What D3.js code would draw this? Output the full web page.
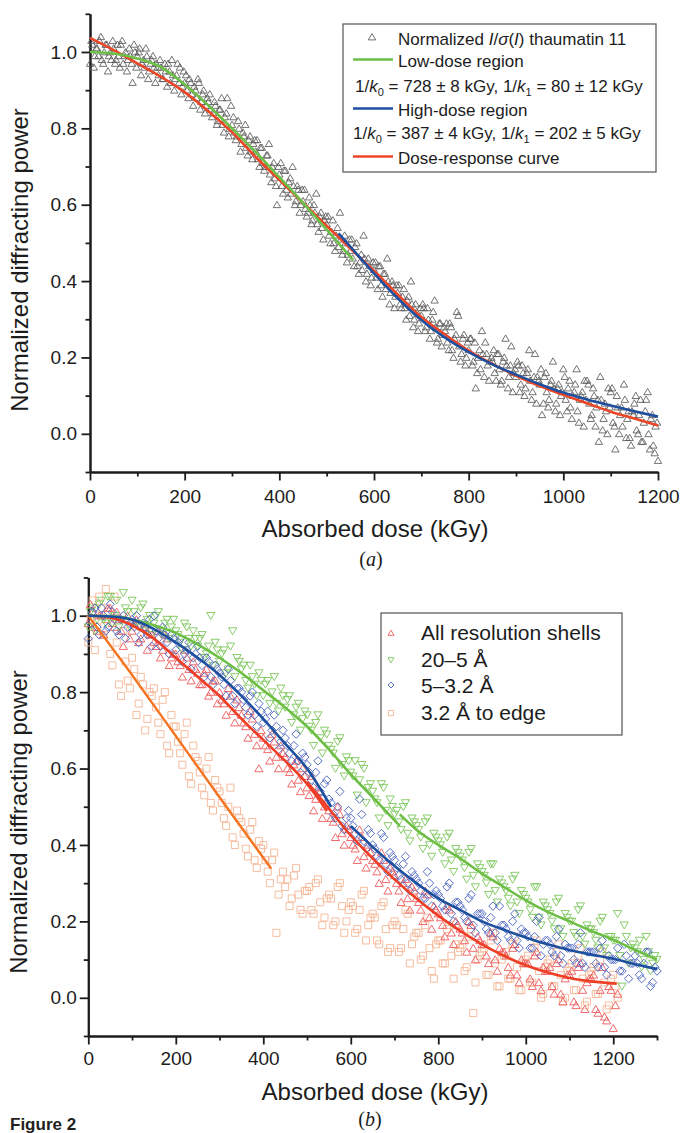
<!DOCTYPE html>
<html><head><meta charset="utf-8">
<script src="https://cdn.jsdelivr.net/npm/d3@7"></script>
<style>
body{margin:0;background:#fff}
svg{display:block}
</style>
</head><body>
<svg id="chart" width="681" height="1133"></svg>
<script>
// ---------------- Panel (a) data ----------------
const doseA = [
0,5,10,15,20,25,30,35,40,45,50,55,60,65,70,75,80,85,90,95,
100,105,110,115,120,125,130,135,140,145,150,155,160,165,170,175,180,185,190,195,
200,205,210,215,220,225,230,235,240,245,250,255,260,265,270,275,280,285,290,295,
300,305,310,315,320,325,330,335,340,345,350,355,360,365,370,375,380,385,390,395,
400,405,410,415,420,425,430,435,440,445,450,455,460,465,470,475,480,485,490,495,
500,505,510,515,520,525,530,535,540,545,550,555,560,565,570,575,580,585,590,595,
600,605,610,615,620,625,630,635,640,645,650,655,660,665,670,675,680,685,690,695,
700,705,710,715,720,725,730,735,740,745,750,755,760,765,770,775,780,785,790,795,
800,805,810,815,820,825,830,835,840,845,850,855,860,865,870,875,880,885,890,895,
900,905,910,915,920,925,930,935,940,945,950,955,960,965,970,975,980,985,990,995,
1000,1005,1010,1015,1020,1025,1030,1035,1040,1045,1050,1055,1060,1065,1070,1075,1080,1085,1090,1095,
1100,1105,1110,1115,1120,1125,1130,1135,1140,1145,1150,1155,1160,1165,1170,1175,1180,1185,1190,1195,
1200];
const intensityA = [
0.97,1.02,0.99,1.01,1.03,0.98,1.00,1.02,0.99,0.98,
1.01,0.98,0.99,1.02,0.97,1.00,0.98,0.99,0.92,1.00,
0.99,1.01,0.97,0.96,0.99,0.95,0.98,0.96,0.97,0.94,
0.96,0.93,0.95,0.97,0.92,0.94,0.93,0.97,0.96,0.91,
0.92,0.90,0.93,0.89,0.91,0.88,0.92,0.87,0.90,0.86,
0.87,0.85,0.84,0.86,0.82,0.85,0.81,0.83,0.88,0.80,
0.81,0.79,0.78,0.80,0.76,0.78,0.75,0.77,0.74,0.76,
0.74,0.72,0.75,0.71,0.70,0.73,0.68,0.70,0.67,0.60,
0.68,0.65,0.69,0.64,0.66,0.63,0.65,0.61,0.64,0.60,
0.61,0.59,0.58,0.60,0.56,0.58,0.55,0.57,0.54,0.56,
0.55,0.52,0.53,0.50,0.52,0.49,0.51,0.48,0.50,0.47,
0.48,0.46,0.49,0.44,0.45,0.43,0.46,0.42,0.44,0.41,
0.43,0.41,0.44,0.39,0.42,0.38,0.40,0.37,0.39,0.36,
0.37,0.34,0.36,0.33,0.35,0.31,0.34,0.30,0.32,0.29,
0.31,0.33,0.28,0.30,0.27,0.32,0.28,0.25,0.29,0.26,
0.27,0.24,0.29,0.22,0.25,0.32,0.23,0.21,0.26,0.20,
0.22,0.25,0.19,0.12,0.20,0.17,0.21,0.24,0.18,0.19,
0.19,0.16,0.21,0.17,0.14,0.20,0.18,0.15,0.23,0.16,
0.15,0.18,0.13,0.16,0.12,0.17,0.14,0.11,0.21,0.15,
0.13,0.05,0.15,0.11,0.09,0.14,0.12,0.08,0.13,0.10,
0.17,0.09,0.12,0.07,0.10,0.13,0.06,0.09,0.11,0.14,
0.14,0.08,0.05,0.10,0.07,-0.02,0.09,0.04,0.06,0.12,
0.11,0.03,-0.04,0.07,0.05,0.02,0.09,0.04,-0.01,0.06,
0.08,0.01,0.05,-0.02,0.03,0.09,0.00,0.04,-0.03,0.02,
-0.07];
const doseA2 = [
3,8,13,18,23,28,33,38,43,48,53,58,63,68,73,78,83,88,93,98,
103,108,113,118,123,128,133,138,143,148,153,158,163,168,173,178,183,188,193,198,
203,208,213,218,223,228,233,238,243,248,253,258,263,268,273,278,283,288,293,298,
303,308,313,318,323,328,333,338,343,348,353,358,363,368,373,378,383,388,393,398,
403,408,413,418,423,428,433,438,443,448,453,458,463,468,473,478,483,488,493,498,
503,508,513,518,523,528,533,538,543,548,553,558,563,568,573,578,583,588,593,598,
603,608,613,618,623,628,633,638,643,648,653,658,663,668,673,678,683,688,693,698,
703,708,713,718,723,728,733,738,743,748,753,758,763,768,773,778,783,788,793,798,
803,808,813,818,823,828,833,838,843,848,853,858,863,868,873,878,883,888,893,898,
903,908,913,918,923,928,933,938,943,948,953,958,963,968,973,978,983,988,993,998,
1003,1008,1013,1018,1023,1028,1033,1038,1043,1048,1053,1058,1063,1068,1073,1078,1083,1088,1093,1098,
1103,1108,1113,1118,1123,1128,1133,1138,1143,1148,1153,1158,1163,1168,1173,1178,1183,1188,1193,1198];
const intensityA2 = [
1.03,0.96,1.01,0.99,1.04,0.97,1.02,0.95,1.00,1.03,
0.97,1.02,0.96,1.03,0.99,0.95,1.01,0.97,1.02,0.96,
1.00,0.94,0.98,1.01,0.93,0.97,0.99,0.92,0.96,0.98,
0.93,0.97,0.91,0.95,0.98,0.90,0.94,0.92,0.89,0.95,
0.94,0.88,0.92,0.86,0.90,0.93,0.85,0.89,0.84,0.88,
0.89,0.83,0.87,0.81,0.85,0.88,0.79,0.84,0.78,0.86,
0.83,0.77,0.82,0.74,0.79,0.81,0.73,0.78,0.72,0.77,
0.77,0.70,0.75,0.69,0.73,0.76,0.66,0.71,0.65,0.70,
0.71,0.63,0.69,0.62,0.67,0.70,0.60,0.65,0.58,0.64,
0.64,0.57,0.62,0.55,0.60,0.63,0.53,0.58,0.51,0.57,
0.57,0.50,0.56,0.48,0.54,0.58,0.47,0.52,0.45,0.51,
0.51,0.44,0.50,0.42,0.47,0.52,0.40,0.46,0.39,0.45,
0.45,0.38,0.44,0.36,0.42,0.46,0.34,0.40,0.33,0.39,
0.39,0.33,0.38,0.30,0.36,0.40,0.28,0.34,0.27,0.33,
0.34,0.27,0.33,0.25,0.30,0.35,0.24,0.29,0.23,0.28,
0.29,0.22,0.28,0.20,0.26,0.31,0.19,0.25,0.18,0.24,
0.25,0.18,0.24,0.16,0.22,0.27,0.15,0.21,0.14,0.20,
0.22,0.14,0.21,0.13,0.19,0.25,0.12,0.18,0.11,0.17,
0.19,0.11,0.18,0.10,0.16,0.22,0.09,0.15,0.08,0.14,
0.17,0.08,0.16,0.07,0.13,0.19,0.06,0.12,0.05,0.11,
0.15,0.06,0.14,0.04,0.11,0.17,0.03,0.10,0.02,0.09,
0.13,0.04,0.12,0.02,0.09,0.15,0.01,0.08,0.00,0.07,
0.12,0.02,0.10,0.00,0.07,0.13,-0.01,0.06,-0.03,0.05,
0.10,0.00,0.09,-0.02,0.06,0.11,-0.04,0.05,-0.05,0.03];

const lowFitDoseA  = [0,50,100,150,200,250,300,350,400,450,500,556];
const lowFitValueA = [1.0,0.996,0.983,0.96,0.915,0.86,0.80,0.738,0.672,0.605,0.535,0.455];
const highFitDoseA  = [525,550,600,650,700,750,800,850,900,950,1000,1050,1100,1150,1200];
const highFitValueA = [0.525,0.49,0.42,0.355,0.298,0.252,0.214,0.182,0.155,0.13,0.108,0.09,0.074,0.059,0.045];
const respFitDoseA  = [0,50,100,150,200,250,300,350,400,450,500,550,600,650,700,750,800,850,900,950,1000,1050,1100,1150,1200];
const respFitValueA = [1.037,1.005,0.97,0.935,0.895,0.845,0.79,0.725,0.665,0.605,0.545,0.485,0.427,0.365,0.306,0.26,0.218,0.183,0.152,0.125,0.102,0.08,0.058,0.04,0.022];

// ---------------- Panel (b) data ----------------
const doseB = [
0,10,20,30,40,50,60,70,80,90,100,110,120,130,140,150,160,170,180,190,
200,210,220,230,240,250,260,270,280,290,300,310,320,330,340,350,360,370,380,390,
400,410,420,430,440,450,460,470,480,490,500,510,520,530,540,550,560,570,580,590,
600,610,620,630,640,650,660,670,680,690,700,710,720,730,740,750,760,770,780,790,
800,810,820,830,840,850,860,870,880,890,900,910,920,930,940,950,960,970,980,990,
1000,1010,1020,1030,1040,1050,1060,1070,1080,1090,1100,1110,1120,1130,1140,1150,1160,1170,1180,1190,
1200,1210,1220,1230,1240,1250,1260,1270,1280,1290,1300];
const doseB2 = [
5,15,25,35,45,55,65,75,85,95,105,115,125,135,145,155,165,175,185,195,
205,215,225,235,245,255,265,275,285,295,305,315,325,335,345,355,365,375,385,395,
405,415,425,435,445,455,465,475,485,495,505,515,525,535,545,555,565,575,585,595,
605,615,625,635,645,655,665,675,685,695,705,715,725,735,745,755,765,775,785,795,
805,815,825,835,845,855,865,875,885,895,905,915,925,935,945,955,965,975,985,995,
1005,1015,1025,1035,1045,1055,1065,1075,1085,1095,1105,1115,1125,1135,1145,1155,1165,1175,1185,1195,
1205,1215,1225,1235,1245,1255,1265,1275,1285,1295];
const allShells = [
0.98,1.01,0.96,1.00,0.99, 1.02,0.97,0.99,0.92,1.00,
0.96,0.99,0.94,0.97,0.95, 0.93,0.96,0.91,0.94,0.89,
0.90,0.87,0.91,0.86,0.88, 0.85,0.82,0.86,0.80,0.83,
0.80,0.77,0.81,0.75,0.78, 0.74,0.71,0.75,0.69,0.60,
0.68,0.65,0.69,0.63,0.66, 0.63,0.59,0.61,0.57,0.60,
0.55,0.58,0.52,0.54,0.50, 0.49,0.46,0.50,0.43,0.45,
0.42,0.39,0.44,0.37,0.40, 0.36,0.33,0.38,0.31,0.34,
0.32,0.28,0.30,0.26,0.29, 0.26,0.23,0.28,0.21,0.24,
0.22,0.19,0.24,0.17,0.20, 0.18,0.15,0.20,0.13,0.16,
0.14,0.11,0.17,0.10,0.13, 0.12,0.08,0.13,0.06,0.10,
0.09,0.05,0.11,0.04,0.08, 0.07,0.03,0.09,0.01,0.05,
0.06,-0.01,0.08,0.02,0.04, 0.05,-0.03,0.02,-0.05,0.03,
-0.08,0.01];
const allShells2 = [
1.03,0.97,1.00,0.95,1.02, 0.98,1.01,0.96,0.99,0.94,
0.98,0.93,0.97,0.91,0.95, 0.92,0.89,0.95,0.87,0.90,
0.88,0.84,0.89,0.83,0.86, 0.82,0.85,0.79,0.83,0.77,
0.78,0.74,0.79,0.72,0.76, 0.72,0.68,0.73,0.66,0.70,
0.66,0.62,0.67,0.60,0.64, 0.60,0.56,0.62,0.54,0.58,
0.53,0.49,0.55,0.47,0.51, 0.47,0.42,0.48,0.40,0.44,
0.40,0.36,0.42,0.34,0.38, 0.35,0.30,0.36,0.28,0.33,
0.30,0.25,0.31,0.23,0.28, 0.25,0.20,0.27,0.18,0.23,
0.21,0.16,0.23,0.14,0.19, 0.17,0.12,0.19,0.10,0.15,
0.14,0.09,0.16,0.07,0.12, 0.11,0.06,0.14,0.04,0.09,
0.09,0.03,0.12,0.02,0.07, 0.08,0.01,0.10,-0.01,0.06,
0.07,-0.02,0.09,-0.03,0.05, 0.06,-0.04,0.08,-0.06,0.02,
-0.02];
const shell20to5 = [
0.97,1.02,0.99,1.04,0.98, 1.05,1.00,0.97,1.06,1.01,
1.04,0.98,1.02,0.96,1.00, 0.98,1.01,0.95,0.99,0.97,
0.96,0.93,0.98,0.94,0.96, 0.92,0.95,0.90,1.00,0.93,
0.88,0.91,0.86,0.96,0.89, 0.86,0.83,0.87,0.82,0.85,
0.79,0.83,0.80,0.77,0.81, 0.76,0.79,0.74,0.77,0.73,
0.74,0.70,0.72,0.68,0.70, 0.66,0.64,0.67,0.61,0.63,
0.59,0.62,0.57,0.60,0.55, 0.54,0.51,0.56,0.49,0.52,
0.48,0.46,0.50,0.43,0.47, 0.45,0.42,0.46,0.40,0.43,
0.41,0.38,0.42,0.36,0.39, 0.37,0.34,0.38,0.32,0.35,
0.33,0.30,0.35,0.28,0.31, 0.29,0.26,0.31,0.25,0.28,
0.26,0.23,0.29,0.21,0.25, 0.23,0.20,0.25,0.18,0.22,
0.20,0.17,0.23,0.16,0.19, 0.18,0.15,0.20,0.13,0.16,
0.15,0.22,0.03,0.16,0.13, 0.13,0.15,0.10,0.12,0.09,
0.10];
const shell20to5_2 = [
1.01,0.96,1.03,0.99,1.05, 0.98,1.04,0.99,1.02,0.97,
1.01,0.97,1.03,0.99,0.95, 1.00,0.96,0.98,0.94,0.99,
0.95,0.91,0.97,0.92,0.94, 0.94,0.89,0.92,0.87,0.91,
0.90,0.85,0.92,0.84,0.88, 0.87,0.81,0.84,0.79,0.83,
0.82,0.77,0.84,0.75,0.79, 0.78,0.72,0.76,0.70,0.75,
0.71,0.66,0.74,0.64,0.69, 0.65,0.60,0.68,0.58,0.62,
0.58,0.53,0.61,0.51,0.56, 0.52,0.47,0.55,0.45,0.50,
0.49,0.44,0.51,0.41,0.46, 0.44,0.39,0.47,0.37,0.42,
0.40,0.35,0.43,0.33,0.38, 0.36,0.31,0.39,0.29,0.34,
0.32,0.27,0.35,0.25,0.30, 0.28,0.24,0.32,0.22,0.27,
0.25,0.21,0.29,0.19,0.24, 0.22,0.18,0.26,0.16,0.21,
0.20,0.16,0.24,0.14,0.18, 0.17,0.13,0.21,0.11,0.16,
0.15,0.11,0.19,0.09,0.14, 0.12,0.08,0.16,0.07,0.11];
const shell5to32 = [
0.94,1.01,0.97,1.02,0.96, 1.03,0.99,0.95,1.00,0.97,
0.99,1.00,0.95,0.97,0.99, 1.00,0.94,0.97,0.93,0.95,
0.91,0.94,0.90,0.93,0.89, 0.92,0.87,0.89,0.84,0.87,
0.85,0.82,0.86,0.79,0.81, 0.80,0.76,0.79,0.74,0.77,
0.72,0.75,0.70,0.71,0.67, 0.68,0.64,0.66,0.62,0.64,
0.61,0.57,0.59,0.54,0.56, 0.52,0.48,0.50,0.45,0.47,
0.47,0.43,0.52,0.41,0.44, 0.40,0.37,0.43,0.35,0.38,
0.36,0.32,0.35,0.30,0.33, 0.31,0.28,0.26,0.30,0.27,
0.27,0.24,0.29,0.22,0.25, 0.24,0.21,0.26,0.19,0.22,
0.22,0.18,0.21,0.17,0.24, 0.19,0.16,0.20,0.15,0.18,
0.17,0.13,0.16,0.21,0.14, 0.15,0.12,0.16,0.11,0.14,
0.13,0.10,0.14,0.09,0.12, 0.12,0.09,0.13,0.08,0.11,
0.10,0.13,0.07,0.11,0.09, 0.11,0.06,0.09,0.12,0.04,
0.07];
const shell5to32_2 = [
0.98,1.02,0.95,1.00,0.97, 1.01,0.96,0.99,0.94,0.98,
0.97,0.93,0.98,0.95,0.92, 0.96,0.92,0.95,0.90,0.94,
0.93,0.88,0.91,0.86,0.90, 0.89,0.84,0.88,0.82,0.86,
0.84,0.79,0.83,0.77,0.81, 0.78,0.74,0.80,0.71,0.75,
0.73,0.68,0.74,0.65,0.70, 0.66,0.62,0.69,0.59,0.63,
0.59,0.55,0.62,0.52,0.57, 0.51,0.47,0.54,0.44,0.49,
0.45,0.41,0.48,0.39,0.43, 0.39,0.36,0.42,0.33,0.37,
0.34,0.31,0.37,0.28,0.32, 0.30,0.26,0.33,0.24,0.28,
0.26,0.23,0.30,0.20,0.25, 0.23,0.20,0.27,0.17,0.22,
0.20,0.17,0.24,0.15,0.19, 0.18,0.15,0.22,0.13,0.17,
0.16,0.13,0.20,0.11,0.15, 0.14,0.11,0.18,0.09,0.13,
0.13,0.09,0.17,0.08,0.12, 0.12,0.08,0.15,0.06,0.10,
0.10,0.07,0.14,0.05,0.09, 0.09,0.05,0.12,0.03,0.08];
const shell32toEdge = [
0.93,1.04,0.97,1.02,1.07, 0.90,1.05,0.82,0.96,0.83,
0.89,0.74,0.84,0.70,0.80, 0.81,0.72,0.78,0.66,0.74,
0.71,0.64,0.69,0.58,0.66, 0.62,0.55,0.60,0.51,0.57,
0.54,0.47,0.50,0.42,0.49, 0.46,0.39,0.44,0.36,0.41,
0.40,0.33,0.36,0.17,0.31, 0.29,0.24,0.32,0.27,0.22,
0.28,0.23,0.30,0.25,0.21, 0.27,0.19,0.29,0.24,0.20,
0.25,0.17,0.23,0.28,0.19, 0.22,0.15,0.24,0.18,0.13,
0.20,0.12,0.18,0.22,0.14, 0.17,0.10,0.19,0.13,0.05,
0.15,0.09,0.18,0.11,0.14, 0.13,0.07,0.16,-0.04,0.10,
0.12,0.06,0.15,0.09,0.03, 0.11,0.05,0.14,0.08,0.02,
0.10,0.04,0.13,0.07,0.01, 0.09,0.03,0.12,0.06,0.00,
0.08,0.02,0.11,0.05,-0.01, 0.07,0.01,0.10,0.04,-0.02,
0.06,0.00];
const shell32toEdge2 = [
0.99,0.91,1.05,0.95,1.01, 0.87,0.93,0.79,0.88,0.81,
0.86,0.77,0.82,0.73,0.79, 0.76,0.69,0.80,0.64,0.71,
0.67,0.61,0.72,0.56,0.63, 0.59,0.53,0.63,0.49,0.55,
0.51,0.45,0.55,0.40,0.47, 0.43,0.37,0.46,0.34,0.39,
0.36,0.30,0.38,0.27,0.33, 0.31,0.26,0.34,0.23,0.28,
0.29,0.22,0.31,0.19,0.26, 0.26,0.20,0.30,0.17,0.23,
0.24,0.18,0.27,0.15,0.21, 0.21,0.14,0.25,0.12,0.19,
0.19,0.13,0.23,0.09,0.16, 0.17,0.11,0.21,0.07,0.14,
0.15,0.09,0.19,0.05,0.12, 0.14,0.08,0.18,0.04,0.11,
0.13,0.06,0.17,0.03,0.10, 0.12,0.05,0.16,0.02,0.09,
0.11,0.04,0.15,0.00,0.08, 0.10,0.03,0.14,-0.01,0.07,
0.09,0.02,0.13,-0.02,0.06, 0.08,0.01,0.12,-0.03,0.05,
0.03];

const allLowDose  = [0,50,100,150,200,250,300,350,400,450,500,545];
const allLowValue = [1.0,0.995,0.975,0.94,0.89,0.84,0.79,0.73,0.675,0.62,0.56,0.49];
const allHighDose  = [500,550,600,650,700,750,800,850,900,950,1000,1050,1100,1150,1208];
const allHighValue = [0.565,0.495,0.425,0.365,0.31,0.26,0.215,0.175,0.14,0.11,0.085,0.066,0.052,0.043,0.037];
const g20LowDose  = [0,50,100,150,200,250,300,350,400,450,500,550,600,650,712];
const g20LowValue = [1.0,0.999,0.99,0.975,0.955,0.925,0.89,0.85,0.805,0.76,0.71,0.65,0.585,0.525,0.45];
const g20HighDose  = [712,750,800,850,900,950,1000,1050,1100,1150,1200,1250,1300];
const g20HighValue = [0.48,0.44,0.40,0.365,0.325,0.29,0.255,0.225,0.2,0.175,0.152,0.125,0.1];
const g5LowDose  = [0,50,100,150,200,250,300,350,400,450,500,555];
const g5LowValue = [1.0,0.998,0.99,0.965,0.93,0.89,0.845,0.79,0.73,0.665,0.6,0.5];
const g5HighDose  = [600,650,700,750,800,850,900,950,1000,1050,1100,1150,1200,1250,1300];
const g5HighValue = [0.45,0.395,0.345,0.3,0.26,0.23,0.2,0.178,0.158,0.14,0.125,0.113,0.102,0.088,0.075];
const edgeFitDose  = [0,100,200,300,418];
const edgeFitValue = [1.0,0.845,0.685,0.525,0.338];

// ---------------- tick values ----------------
const xMajorA = [0,200,400,600,800,1000,1200];
const xMinorA = [100,300,500,700,900,1100];
const xMajorB = [0,200,400,600,800,1000,1200];
const xMinorB = [100,300,500,700,900,1100,1300];
const yMajor = [0,0.2,0.4,0.6,0.8,1.0];
const yMinor = [-0.1,0.1,0.3,0.5,0.7,0.9,1.1];

// ---------------- drawing ----------------
const SANS = "'Liberation Sans', Arial, Helvetica, sans-serif";
const SERIF = "'Liberation Serif', 'Times New Roman', serif";
const INK = "#1c1c1c";
const svg = d3.select("#chart");
svg.append("rect").attr("width",681).attr("height",1133).attr("fill","#fff");

const TRI_UP_A = "M0,-3.4L3.7,2.9L-3.7,2.9Z";
const TRI_UP = "M0,-3.8L4.1,3.2L-4.1,3.2Z";
const TRI_DN = "M0,3.8L4.1,-3.2L-4.1,-3.2Z";
const DIAM = "M0,-4.2L4.2,0L0,4.2L-4.2,0Z";
const SQR = "M-3.5,-3.5H3.5V3.5H-3.5Z";

function axes(o) {
  const x = d3.scaleLinear().domain(o.xDomain).range(o.xRange);
  const y = d3.scaleLinear().domain([-0.1, 1.1]).range(o.yRange);
  const g = svg.append("g");
  const y0 = o.yRange[0], x0 = o.xRange[0];
  g.append("g").attr("transform", `translate(0,${y0})`)
    .call(d3.axisBottom(x).tickValues(o.xMinor).tickSize(4.5).tickSizeOuter(0).tickFormat(""));
  g.append("g").attr("transform", `translate(${x0},0)`)
    .call(d3.axisLeft(y).tickValues(yMinor).tickSize(4.5).tickSizeOuter(0).tickFormat(""));
  g.append("g").attr("transform", `translate(0,${y0})`)
    .call(d3.axisBottom(x).tickValues(o.xMajor).tickSize(8.5).tickSizeOuter(0).tickPadding(o.xPad).tickFormat(d3.format("d")));
  g.append("g").attr("transform", `translate(${x0},0)`)
    .call(d3.axisLeft(y).tickValues(yMajor).tickSize(8.5).tickSizeOuter(0).tickPadding(o.yPad).tickFormat(d3.format(".1f")));
  g.selectAll(".domain").attr("stroke", INK).attr("stroke-width", 2);
  g.selectAll(".tick line").attr("stroke", INK).attr("stroke-width", 1.8);
  g.selectAll(".tick text").attr("fill", INK).attr("font-family", SANS).attr("font-size", 19);
  svg.append("text").attr("x", o.xTitleX).attr("y", o.xTitleY).attr("text-anchor", "middle")
    .attr("font-family", SANS).attr("font-size", 24).attr("fill", INK).text("Absorbed dose (kGy)");
  svg.append("text").attr("transform", `translate(${o.yTitleX},${o.yTitleY}) rotate(-90)`).attr("text-anchor", "middle")
    .attr("font-family", SANS).attr("font-size", 24).attr("fill", INK).text("Normalized diffracting power");
  const lab = svg.append("text").attr("x", o.labX).attr("y", o.labY).attr("text-anchor", "middle")
    .attr("font-family", SERIF).attr("font-size", 20).attr("fill", INK);
  lab.append("tspan").text("(");
  lab.append("tspan").attr("font-style", "italic").text(o.lab);
  lab.append("tspan").text(")");
  return {x, y};
}

function scatter(s, dose, vals, shape, color, sw) {
  const pts = d3.zip(dose.slice(0, vals.length), vals);
  svg.append("g").selectAll("path").data(pts).join("path")
    .attr("d", shape)
    .attr("transform", d => `translate(${s.x(d[0])},${s.y(d[1])})`)
    .attr("fill", "none").attr("stroke", color).attr("stroke-width", sw);
}
function fit(s, dose, vals, color, w) {
  const line = d3.line().x(d => s.x(d[0])).y(d => s.y(d[1])).curve(d3.curveMonotoneX);
  svg.append("path").datum(d3.zip(dose, vals)).attr("d", line)
    .attr("fill", "none").attr("stroke", color).attr("stroke-width", w).attr("stroke-linecap", "butt");
}

// ---- Panel (a)
const A = axes({xDomain:[0,1200], xRange:[90,658], yRange:[472,13.8], xMajor:xMajorA, xMinor:xMinorA,
  xPad:9, yPad:4.5, xTitleX:375, xTitleY:537, yTitleX:28, yTitleY:260, labX:371, labY:566, lab:"a"});
scatter(A, doseA, intensityA, TRI_UP_A, "#5a5a5a", 0.85);
scatter(A, doseA2, intensityA2, TRI_UP_A, "#5a5a5a", 0.85);
const RED_A = "#ec4627", GREEN_A = "#6cbf47", BLUE_A = "#1f4f9e";
fit(A, respFitDoseA, respFitValueA, RED_A, 2.6);
fit(A, highFitDoseA, highFitValueA, BLUE_A, 2.6);
fit(A, lowFitDoseA, lowFitValueA, GREEN_A, 2.6);

// legend (a)
const legA = svg.append("g").attr("font-family", SANS).attr("font-size", 17).attr("fill", INK);
legA.append("rect").attr("x", 343).attr("y", 24).attr("width", 313).attr("height", 148)
  .attr("fill", "#fff").attr("stroke", "#606060").attr("stroke-width", 1.3);
legA.append("path").attr("d", TRI_UP_A).attr("transform", "translate(372,37)").attr("fill", "none").attr("stroke", "#5a5a5a").attr("stroke-width", 0.85);
function richText(g, x, y, parts) {
  const t = g.append("text").attr("x", x).attr("y", y);
  let shifted = false;
  parts.forEach(p => {
    const ts = t.append("tspan").text(p[0]);
    if (p[1] === "i") ts.attr("font-style", "italic");
    if (p[1] === "sub") { ts.attr("font-size", 11).attr("dy", 4); shifted = true; }
    else if (shifted) { ts.attr("dy", -4); shifted = false; }
  });
  return t;
}
richText(legA, 398, 45, [["Normalized "],["I","i"],["/"],["σ","i"],["("],["I","i"],[") thaumatin 11"]]);
legA.append("line").attr("x1", 353).attr("x2", 393).attr("y1", 59.5).attr("y2", 59.5).attr("stroke", GREEN_A).attr("stroke-width", 2.6);
legA.append("text").attr("x", 398).attr("y", 66.5).text("Low-dose region");
richText(legA, 355, 91.5, [["1/"],["k","i"],["0","sub"],[" = 728 ± 8 kGy, 1/"],["k","i"],["1","sub"],[" = 80 ± 12 kGy"]]);
legA.append("line").attr("x1", 353).attr("x2", 393).attr("y1", 108.5).attr("y2", 108.5).attr("stroke", BLUE_A).attr("stroke-width", 2.6);
legA.append("text").attr("x", 398).attr("y", 115.5).text("High-dose region");
richText(legA, 353, 138.5, [["1/"],["k","i"],["0","sub"],[" = 387 ± 4 kGy, 1/"],["k","i"],["1","sub"],[" = 202 ± 5 kGy"]]);
legA.append("line").attr("x1", 353).attr("x2", 393).attr("y1", 156.5).attr("y2", 156.5).attr("stroke", RED_A).attr("stroke-width", 2.6);
legA.append("text").attr("x", 398).attr("y", 164).text("Dose-response curve");

// ---- Panel (b)
const B = axes({xDomain:[0,1300], xRange:[88.3,657], yRange:[1036,577.5], xMajor:xMajorB, xMinor:xMinorB,
  xPad:7, yPad:3, xTitleX:375, xTitleY:1100, yTitleX:27, yTitleY:822, labX:370, labY:1126, lab:"b"});
const C_ORANGE_PT = "#f5b594", C_RED_PT = "#ee5a5c", C_GREEN_PT = "#7cc65a", C_BLUE_PT = "#4560be";
scatter(B, doseB, shell32toEdge, SQR, C_ORANGE_PT, 0.9);
scatter(B, doseB2, shell32toEdge2, SQR, C_ORANGE_PT, 0.9);
scatter(B, doseB, allShells, TRI_UP, C_RED_PT, 0.9);
scatter(B, doseB2, allShells2, TRI_UP, C_RED_PT, 0.9);
scatter(B, doseB, shell20to5, TRI_DN, C_GREEN_PT, 0.9);
scatter(B, doseB2, shell20to5_2, TRI_DN, C_GREEN_PT, 0.9);
scatter(B, doseB, shell5to32, DIAM, C_BLUE_PT, 0.9);
scatter(B, doseB2, shell5to32_2, DIAM, C_BLUE_PT, 0.9);
const L_RED = "#ee3e25", L_GREEN = "#6dbe45", L_BLUE = "#1d4f9f", L_ORANGE = "#f47521";
fit(B, edgeFitDose, edgeFitValue, L_ORANGE, 2.4);
fit(B, allLowDose, allLowValue, L_RED, 2.6);
fit(B, allHighDose, allHighValue, L_RED, 2.6);
fit(B, g20LowDose, g20LowValue, L_GREEN, 2.6);
fit(B, g20HighDose, g20HighValue, L_GREEN, 2.6);
fit(B, g5LowDose, g5LowValue, L_BLUE, 2.6);
fit(B, g5HighDose, g5HighValue, L_BLUE, 2.6);

// legend (b)
const legB = svg.append("g").attr("font-family", SANS).attr("font-size", 21).attr("fill", INK);
legB.append("rect").attr("x", 381).attr("y", 613).attr("width", 241).attr("height", 122)
  .attr("fill", "#fff").attr("stroke", "#606060").attr("stroke-width", 1.3);
const legBItems = [
  ["All resolution shells", "M0,-2.8L3,2.3L-3,2.3Z", C_RED_PT, 640, 633],
  ["20–5 Å", "M0,2.8L3,-2.3L-3,-2.3Z", C_GREEN_PT, 666.5, 660],
  ["5–3.2 Å", "M0,-3L3,0L0,3L-3,0Z", C_BLUE_PT, 693, 685],
  ["3.2 Å to edge", "M-2.6,-2.6H2.6V2.6H-2.6Z", C_ORANGE_PT, 719.5, 713]
];
legBItems.forEach(it => {
  legB.append("path").attr("d", it[1]).attr("transform", `translate(391,${it[4]})`)
    .attr("fill", "none").attr("stroke", it[2]).attr("stroke-width", 0.9);
  legB.append("text").attr("x", 421).attr("y", it[3]).text(it[0]);
});

// figure caption fragment
svg.append("text").attr("x", 10).attr("y", 1130).attr("font-family", SANS).attr("font-weight", "bold")
  .attr("font-size", 17).attr("fill", "#231f20").text("Figure 2");
</script>
</body></html>
